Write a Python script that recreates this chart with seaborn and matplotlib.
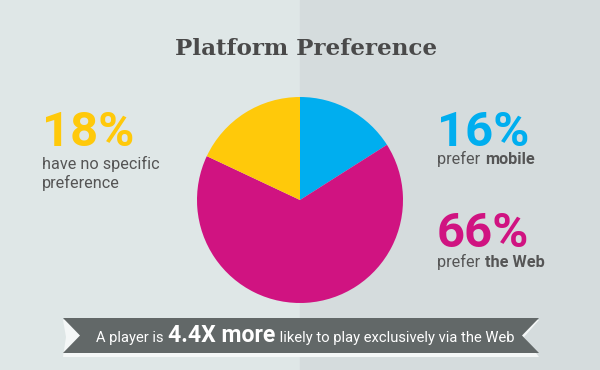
import numpy as np
import seaborn as sns
import matplotlib
matplotlib.use("Agg")
import matplotlib.pyplot as plt
from matplotlib.patches import Polygon

# data
platforms = ["mobile", "the Web", "no specific preference"]
shares = [16, 66, 18]
slice_colors = ["#00aeef", "#d01381", "#ffc90a"]

title = "Platform Preference"
banner_pre = "A player is "
banner_bold = "4.4X more"
banner_post = " likely to play exclusively via the Web"

sns.set_theme(style="white")
plt.rcParams["font.family"] = ["Roboto", "DejaVu Sans"]

W, H = 600, 370
TEXT = "#555555"

fig = plt.figure(figsize=(6, 3.7), dpi=100)
ax = fig.add_axes([0, 0, 1, 1])


def Y(y):
    # pixel row from the top -> data y
    return H - y


def pt(px):
    return px * 0.72


# two-tone background
ax.axvspan(0, 300, color="#dfe7e7", zorder=0)
ax.axvspan(300, 600, color="#d5dcdd", zorder=0)

# pie
pal = sns.color_palette(slice_colors)
ax.pie(shares, colors=pal, startangle=90, counterclock=False,
       center=(300, Y(200)), radius=103, frame=True,
       wedgeprops=dict(linewidth=0))
ax.set_xlim(0, W)
ax.set_ylim(0, H)
ax.set_aspect("auto")
ax.axis("off")

# title
ax.text(306, Y(55), title, ha="center", va="baseline",
        fontsize=pt(23), fontweight="bold", color="#4a4a4a",
        family=["DejaVu Serif"])

fig.canvas.draw()
renderer = fig.canvas.get_renderer()


def run_text(x, y, parts, size, color):
    # draw consecutive pieces of text with their own weights
    out = []
    for s, weight, fs in parts:
        t = ax.text(x, Y(y), s, ha="left", va="baseline", fontsize=pt(fs or size),
                    fontweight=weight, color=color)
        bb = t.get_window_extent(renderer=renderer)
        x += bb.width + 0.5
        out.append(t)
    return out


# big percentages
big = 49
ax.text(42, Y(146), f"{shares[2]}%", fontsize=pt(big), fontweight="bold",
        color=slice_colors[2], va="baseline")
ax.text(437, Y(146), f"{shares[0]}%", fontsize=pt(big), fontweight="bold",
        color=slice_colors[0], va="baseline")
ax.text(437, Y(247), f"{shares[1]}%", fontsize=pt(big), fontweight="bold",
        color=slice_colors[1], va="baseline")

body = 16.2
ax.text(42, Y(169), "have no specific", fontsize=pt(body), color=TEXT, va="baseline")
ax.text(42, Y(188), "preference", fontsize=pt(body), color=TEXT, va="baseline")
run_text(437, 164, [("prefer ", "normal", None), (platforms[0], "bold", None)], body, TEXT)
run_text(437, 267, [("prefer ", "normal", None), (platforms[1], "bold", None)], body, TEXT)

# ribbon banner
back = [(63, 320), (539, 320), (524, 337), (539, 357), (63, 357), (66, 337)]
front = [(63, 318), (539, 318), (522, 335.5), (539, 353), (63, 353), (80, 335.5)]
ax.add_patch(Polygon([(x, Y(y)) for x, y in back], closed=True,
                     facecolor="#f4f7f7", edgecolor="none", zorder=3))
ax.add_patch(Polygon([(x, Y(y)) for x, y in front], closed=True,
                     facecolor="#626868", edgecolor="none", zorder=4))

parts = [(banner_pre, "normal", 14.8), (banner_bold, "bold", 23), (banner_post, "normal", 14.8)]
for t in run_text(96, 342, parts, 14.8, "white"):
    t.set_zorder(5)

fig.savefig("out.png", dpi=100)
